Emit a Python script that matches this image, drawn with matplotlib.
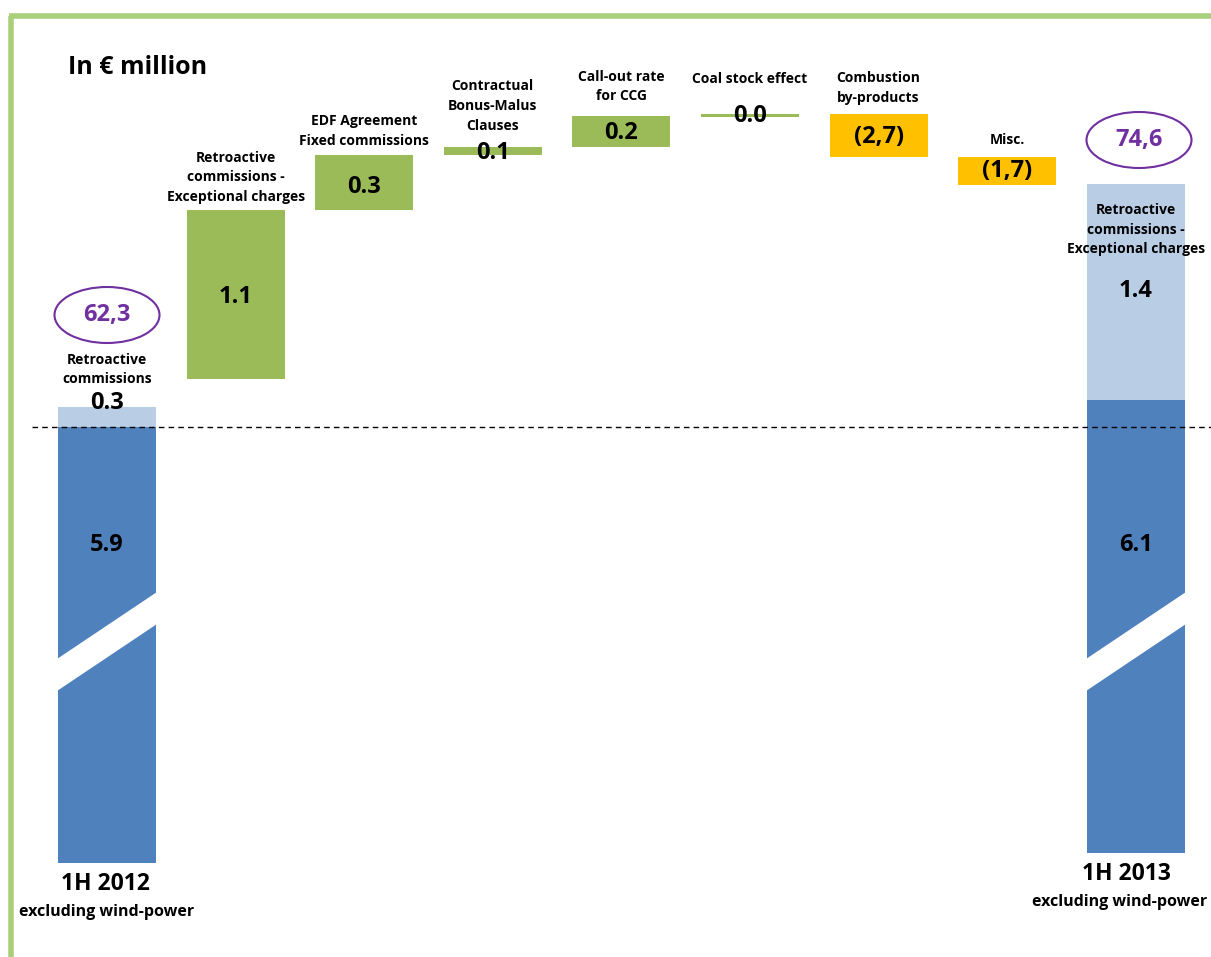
import matplotlib
matplotlib.use("Agg")
import matplotlib.pyplot as plt
from matplotlib.patches import Ellipse, Polygon

plt.rcParams['font.family'] = ['Open Sans', 'DejaVu Sans']

# ---- data (vertical unit = picture scale, top at 0) ----
categories = ["1H 2012", "Retroactive commissions - Exceptional charges",
              "EDF Agreement Fixed commissions", "Contractual Bonus-Malus Clauses",
              "Call-out rate for CCG", "Coal stock effect", "Combustion by-products",
              "Misc.", "1H 2013"]
value_labels = ["5.9", "1.1", "0.3", "0.1", "0.2", "0.0", "(2,7)", "(1,7)", "6.1"]
# bar extents in the picture's vertical scale (0 = top)
bar_top = [427, 210, 155, 147, 116, 114, 114, 157, 400]
bar_bottom = [863, 379, 210, 155, 147, 117, 157, 185, 853]
bar_kind = ["base", "up", "up", "up", "up", "up", "down", "down", "base"]
# light-blue stacked parts of the totals
extra_labels = ["0.3", "1.4"]
extra_top = [407, 184]
extra_bottom = [427, 400]
totals = ["62,3", "74,6"]
step_labels = ["", "Retroactive\ncommissions -\nExceptional charges",
               "EDF Agreement\nFixed commissions", "Contractual\nBonus-Malus\nClauses",
               "Call-out rate\nfor CCG", "Coal stock effect", "Combustion\nby-products",
               "Misc.", ""]

colors = {"base": "#4F81BD", "up": "#9BBB59", "down": "#FFC000"}
light_blue = "#B9CDE5"
purple = "#7030A0"

fig = plt.figure(figsize=(12.11, 9.57), dpi=100)
ax = fig.add_axes([0, 0, 1, 1])
ax.set_xlim(0, 1211)
ax.set_ylim(957, 0)
ax.axis("off")

x0 = 107
dx = 128.6
xs = [x0 + i * dx for i in range(len(categories))]
xs[-1] = 1136
W = 98

for i in range(len(categories)):
    h = bar_bottom[i] - bar_top[i]
    ax.bar(xs[i], h, bottom=bar_top[i], width=W, color=colors[bar_kind[i]],
           linewidth=0, zorder=2)

# stacked light-blue parts on totals
for j, i in enumerate([0, len(categories) - 1]):
    ax.bar(xs[i], extra_bottom[j] - extra_top[j], bottom=extra_top[j], width=W,
           color=light_blue, linewidth=0, zorder=2)

# axis break stripes
for i in [0, len(categories) - 1]:
    l, r = xs[i] - W / 2 - 1, xs[i] + W / 2 + 1
    poly = Polygon([[l, 659], [r, 592], [r, 624], [l, 691]], closed=True,
                   facecolor="white", edgecolor="none", zorder=3)
    ax.add_patch(poly)

# dashed reference line
ax.plot([32, 1211], [427, 427], color="black", lw=1.0, ls=(0, (4, 3)), zorder=4)

VAL_FS = 17
SMALL_FS = 10
LS = 1.5

# value labels
val_y = [545, 297, 187, 153, 133, 116, 137, 171, 545]
for i, lab in enumerate(value_labels):
    ax.text(xs[i], val_y[i], lab, ha="center", va="center", fontsize=VAL_FS,
            fontweight="bold", color="black", zorder=5)

# step labels above bars (block centres)
step_y = [0, 177, 131, 106, 86.5, 79, 88, 140, 0]
for i, lab in enumerate(step_labels):
    if lab:
        ax.text(xs[i], step_y[i], lab, ha="center", va="center", fontsize=SMALL_FS,
                fontweight="bold", color="black", linespacing=LS, zorder=5)

# labels inside totals
ax.text(xs[0], 369.5, "Retroactive\ncommissions", ha="center", va="center",
        fontsize=SMALL_FS, fontweight="bold", linespacing=LS, zorder=5)
ax.text(xs[0], 403, extra_labels[0], ha="center", va="center", fontsize=VAL_FS,
        fontweight="bold", zorder=5)
ax.text(xs[-1], 229.5, "Retroactive\ncommissions -\nExceptional charges", ha="center",
        va="center", fontsize=SMALL_FS, fontweight="bold", linespacing=LS, zorder=5)
ax.text(xs[-1], 291, extra_labels[1], ha="center", va="center", fontsize=VAL_FS,
        fontweight="bold", zorder=5)

# total ovals
oval_pos = [(107, 315), (1139, 140)]
for (cx, cy), t in zip(oval_pos, totals):
    ax.add_patch(Ellipse((cx, cy), 105, 56, facecolor="white", edgecolor=purple,
                         lw=1.5, zorder=5))
    ax.text(cx, cy, t, ha="center", va="center", fontsize=VAL_FS, fontweight="bold",
            color=purple, zorder=6)

# x labels
ax.text(105.5, 884, "1H 2012", ha="center", va="center", fontsize=16.5, fontweight="bold")
ax.text(106.5, 912, "excluding wind-power", ha="center", va="center", fontsize=11.5,
        fontweight="bold")
ax.text(1126, 874, "1H 2013", ha="center", va="center", fontsize=16.5, fontweight="bold")
ax.text(1120, 902, "excluding wind-power", ha="center", va="center", fontsize=11.5,
        fontweight="bold")

# title
ax.text(68, 67, "In € million", ha="left", va="center", fontsize=18, fontweight="bold")

# green frame
frame = "#AACF7B"
ax.plot([11, 11], [16, 957], color=frame, lw=4, solid_capstyle="butt")
ax.plot([9, 1211], [16, 16], color=frame, lw=4, solid_capstyle="butt")

fig.savefig("out.png", dpi=100)
